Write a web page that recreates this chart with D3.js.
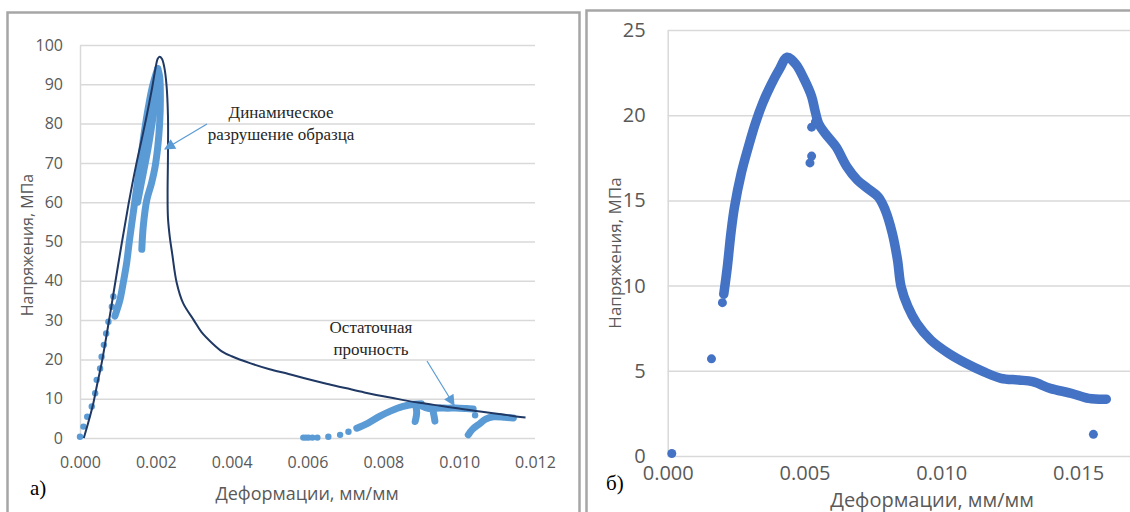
<!DOCTYPE html>
<html>
<head>
<meta charset="utf-8">
<script src="https://cdn.jsdelivr.net/npm/d3@7"></script>
<style>
  body { margin: 0; background: #fff; }
  text { font-family: "Open Sans", sans-serif; }
</style>
</head>
<body>
<svg id="chart" width="1130" height="512"></svg>
<script>
// ---- panel a) : strain (mm/mm) vs stress (MPa) ----
const xTicksA = [0, 0.002, 0.004, 0.006, 0.008, 0.010, 0.012];
const yTicksA = [0, 10, 20, 30, 40, 50, 60, 70, 80, 90, 100];

// model curve (dark line)
const modelCurve = [
  [0.0001, 0], [0.00022, 4], [0.00035, 8.8], [0.00046, 14], [0.00057, 19],
  [0.00075, 29], [0.00092, 39], [0.0011, 49.5], [0.00128, 59.5], [0.00147, 69],
  [0.00165, 77], [0.00178, 83], [0.0019, 89], [0.00199, 94], [0.00205, 96.5],
  [0.0021, 97], [0.00216, 96.5], [0.00222, 94.5], [0.00228, 90], [0.00232, 82],
  [0.00232, 72], [0.00231, 62], [0.00232, 56], [0.00237, 51], [0.00243, 47],
  [0.00255, 39.5], [0.00272, 34.3], [0.003, 30], [0.0032, 27], [0.0035, 24],
  [0.00375, 22], [0.004, 20.8], [0.0045, 19], [0.005, 17.5], [0.0055, 16.3],
  [0.006, 15], [0.0065, 13.8], [0.007, 12.7], [0.0075, 11.6], [0.008, 10.6],
  [0.0085, 9.7], [0.009, 8.9], [0.0095, 8.2], [0.01, 7.5], [0.0105, 6.8],
  [0.011, 6.2], [0.0115, 5.5], [0.01175, 5.2]
];

// test points (light blue), sparse dots
const testDotsA = [
  [0.0000, 0.3], [0.00009, 2.9], [0.00019, 5.4], [0.00031, 8], [0.0004, 11.4],
  [0.00044, 14.8], [0.00053, 17.7], [0.00057, 20.7], [0.00063, 23.7],
  [0.00069, 26.6], [0.00075, 29.6], [0.00084, 33.4], [0.00088, 36],
  [0.00589, 0.1], [0.00596, 0.1], [0.00603, 0.1], [0.00613, 0.1], [0.00626, 0.1],
  [0.00655, 0.3], [0.00686, 0.8], [0.00708, 1.6], [0.01042, 5.8]
];

// test points, dense runs (drawn as bands of dots)
const testRunsA = [
  [[0.00092, 31], [0.00105, 35], [0.00114, 39.5], [0.00123, 44.5], [0.0013, 50],
   [0.0014, 57], [0.0015, 64], [0.0016, 71], [0.0017, 78], [0.0018, 84],
   [0.0019, 89], [0.002, 92.5], [0.00205, 94]],
  [[0.00163, 48], [0.00167, 54], [0.00176, 60.5], [0.00189, 65], [0.00198, 69],
   [0.00205, 74], [0.0021, 80], [0.00212, 86], [0.0021, 92], [0.00205, 94]],
  [[0.00152, 60], [0.00168, 68], [0.0018, 74], [0.0019, 80], [0.002, 86], [0.00208, 92]],
  [[0.0073, 2.5], [0.0076, 3.8], [0.0079, 5.5], [0.0082, 6.9], [0.0085, 8.0],
   [0.0088, 8.6], [0.009, 8.7]],
  [[0.00885, 8.4], [0.00888, 6.5], [0.00884, 4.2]],
  [[0.009, 8.2], [0.0092, 7.5], [0.0094, 7.6], [0.0097, 7.6], [0.01, 7.6],
   [0.0102, 7.5], [0.01037, 7.4]],
  [[0.0093, 7.3], [0.00934, 5.5], [0.00936, 4.3]],
  [[0.01024, 0.8], [0.01035, 2.2], [0.01055, 3.7], [0.0107, 4.8], [0.0109, 5.4],
   [0.0112, 5.3], [0.01143, 5.1]]
];

// ---- panel б) ----
const xTicksB = [0, 0.005, 0.010, 0.015];
const yTicksB = [0, 5, 10, 15, 20, 25];

const testRunB = [
  [0.00205, 9.5], [0.00218, 11.1], [0.00231, 13.07], [0.00244, 14.6], [0.00269, 16.6],
  [0.00295, 18.15], [0.0032, 19.5], [0.00347, 20.7], [0.00378, 21.8], [0.0041, 22.75],
  [0.00436, 23.4], [0.00468, 23.0], [0.005, 22.07], [0.00526, 21.1], [0.00538, 20.3],
  [0.00552, 19.5], [0.00577, 18.9], [0.00615, 18.15], [0.00654, 17.0], [0.00693, 16.2],
  [0.00731, 15.7], [0.0077, 15.2], [0.00795, 14.44], [0.00821, 13.07], [0.0084, 11.5],
  [0.00853, 9.94], [0.00878, 8.76], [0.0091, 7.8], [0.00962, 6.8], [0.01026, 6.03],
  [0.0109, 5.44], [0.01154, 4.95], [0.01218, 4.56], [0.01283, 4.46], [0.01334, 4.36],
  [0.01398, 3.97], [0.01475, 3.68], [0.01539, 3.38], [0.01603, 3.33]
];
const testDotsB = [
  [0.00015, 0.15], [0.0016, 5.7], [0.002, 9.0], [0.01556, 1.27],
  [0.00526, 19.3], [0.00526, 17.6], [0.0052, 17.2], [0.0054, 19.6]
];

const svg = d3.select('#chart');
svg.append('rect').attr('width', 1130).attr('height', 512).attr('fill', '#fff');

const gridColor = '#d9d9d9';
const labelColor = '#595959';

// panel frames
svg.append('rect')
  .attr('x', 7.5).attr('y', 12.5).attr('width', 572).attr('height', 520)
  .attr('fill', 'none').attr('stroke', '#a6a6a6').attr('stroke-width', 2.5);
svg.append('rect')
  .attr('x', 586.5).attr('y', 10.5).attr('width', 560).attr('height', 520)
  .attr('fill', 'none').attr('stroke', '#a6a6a6').attr('stroke-width', 2.5);

function drawAxes(x, y, xTicks, yTicks, opt) {
  const [x0] = x.range();
  const gy = svg.append('g')
    .attr('transform', `translate(${x0},0)`)
    .call(d3.axisLeft(y).tickValues(yTicks).tickSize(-(opt.gridRight - x0))
      .tickSizeOuter(0).tickPadding(opt.yPad));
  gy.select('.domain').attr('stroke', gridColor).attr('stroke-width', 1.5);
  gy.selectAll('.tick line').attr('stroke', gridColor).attr('stroke-width', 1.5);
  gy.selectAll('.tick text').attr('fill', labelColor)
    .style('font-size', opt.tickFont + 'px').style('font-family', '"Open Sans", sans-serif');

  const gx = svg.append('g')
    .attr('transform', `translate(0,${y(0)})`)
    .call(d3.axisBottom(x).tickValues(xTicks).tickSize(0)
      .tickPadding(opt.xPad).tickFormat(d3.format('.3f')));
  gx.select('.domain').remove();
  gx.selectAll('.tick text').attr('fill', labelColor)
    .style('font-size', opt.tickFont + 'px').style('font-family', '"Open Sans", sans-serif');
}

// ---------- panel a ----------
const xA = d3.scaleLinear().domain([0, 0.012]).range([80, 535]);
const yA = d3.scaleLinear().domain([0, 100]).range([438, 45]);
drawAxes(xA, yA, xTicksA, yTicksA, { gridRight: 535, yPad: 17, xPad: 19, tickFont: 16 });

const lineA = d3.line().x(d => xA(d[0])).y(d => yA(d[1])).curve(d3.curveCatmullRom);
const blueA = '#5b9bd5';

svg.append('g').selectAll('path.run')
  .data(testRunsA)
  .enter().append('path')
    .attr('d', lineA)
    .attr('fill', 'none')
    .attr('stroke', blueA)
    .attr('stroke-width', 7)
    .attr('stroke-linecap', 'round')
    .attr('stroke-linejoin', 'round');

svg.append('g').selectAll('circle')
  .data(testDotsA)
  .enter().append('circle')
    .attr('cx', d => xA(d[0]))
    .attr('cy', d => yA(d[1]))
    .attr('r', 3.2)
    .attr('fill', blueA);

svg.append('path')
  .datum(modelCurve)
  .attr('d', lineA)
  .attr('fill', 'none')
  .attr('stroke', '#1f3864')
  .attr('stroke-width', 2);

// annotations
const defs = svg.append('defs');
defs.append('marker')
  .attr('id', 'arrow')
  .attr('viewBox', '0 0 10 10')
  .attr('refX', 9).attr('refY', 5)
  .attr('markerWidth', 14).attr('markerHeight', 11)
  .attr('markerUnits', 'userSpaceOnUse')
  .attr('orient', 'auto')
  .append('path').attr('d', 'M0,0 L10,5 L0,10 Z').attr('fill', blueA);

const notes = [
  { lines: ['Динамическое', 'разрушение образца'], x: 281, y: 118, from: [207, 124], to: [165, 149] },
  { lines: ['Остаточная', 'прочность'], x: 371, y: 333, from: [427, 361], to: [454, 405] }
];
notes.forEach(n => {
  svg.append('line')
    .attr('x1', n.from[0]).attr('y1', n.from[1])
    .attr('x2', n.to[0]).attr('y2', n.to[1])
    .attr('stroke', blueA).attr('stroke-width', 1.2)
    .attr('marker-end', 'url(#arrow)');
  n.lines.forEach((t, i) => {
    svg.append('text')
      .attr('x', n.x).attr('y', n.y + i * 22)
      .attr('text-anchor', 'middle')
      .style('font-family', '"Liberation Serif", serif')
      .style('font-size', '17px')
      .attr('fill', '#262626')
      .text(t);
  });
});

svg.append('text')
  .attr('x', 307).attr('y', 500)
  .attr('text-anchor', 'middle')
  .attr('fill', labelColor).style('font-size', '18px')
  .text('Деформации, мм/мм');
svg.append('text')
  .attr('transform', 'translate(33,245) rotate(-90)')
  .attr('text-anchor', 'middle')
  .attr('fill', labelColor).style('font-size', '16px')
  .text('Напряжения, МПа');
svg.append('text')
  .attr('x', 30).attr('y', 495)
  .style('font-family', '"Liberation Serif", serif')
  .style('font-size', '21px').attr('fill', '#000')
  .text('а)');

// ---------- panel б ----------
const xB = d3.scaleLinear().domain([0, 0.02]).range([667.7, 667.7 + 0.02 * 27360]);
const yB = d3.scaleLinear().domain([0, 25]).range([456, 30]);
drawAxes(xB, yB, xTicksB, yTicksB, { gridRight: 1135, yPad: 22, xPad: 10, tickFont: 20 });

const lineB = d3.line().x(d => xB(d[0])).y(d => yB(d[1])).curve(d3.curveCatmullRom);
const blueB = '#4472c4';

svg.append('path')
  .datum(testRunB)
  .attr('d', lineB)
  .attr('fill', 'none')
  .attr('stroke', blueB)
  .attr('stroke-width', 9.5)
  .attr('stroke-linecap', 'round')
  .attr('stroke-linejoin', 'round');

svg.append('g').selectAll('circle')
  .data(testDotsB)
  .enter().append('circle')
    .attr('cx', d => xB(d[0]))
    .attr('cy', d => yB(d[1]))
    .attr('r', 4.5)
    .attr('fill', blueB);

svg.append('text')
  .attr('x', 932).attr('y', 507)
  .attr('text-anchor', 'middle')
  .attr('fill', labelColor).style('font-size', '20px')
  .text('Деформации, мм/мм');
svg.append('text')
  .attr('transform', 'translate(621,253) rotate(-90)')
  .attr('text-anchor', 'middle')
  .attr('fill', labelColor).style('font-size', '17px')
  .text('Напряжения, МПа');
svg.append('text')
  .attr('x', 606).attr('y', 490)
  .style('font-family', '"Liberation Serif", serif')
  .style('font-size', '21px').attr('fill', '#000')
  .text('б)');
</script>
</body>
</html>
